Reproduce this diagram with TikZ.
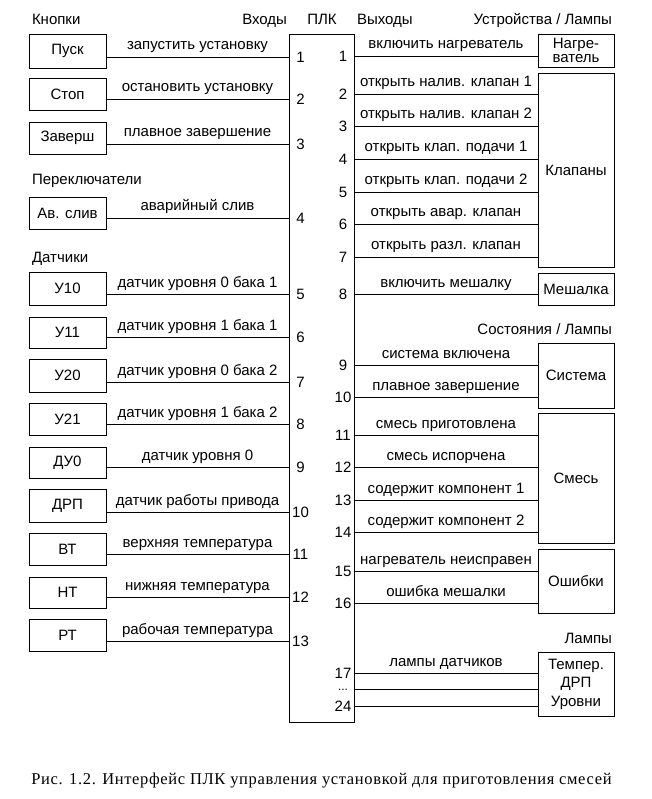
\documentclass[tikz,border=0pt]{standalone}
\usepackage{fontspec}
\setmainfont{Liberation Sans}
\newfontfamily\capfont[LetterSpace=4.0]{Liberation Serif}
\begin{document}
\begin{tikzpicture}[x=1pt,y=-1pt,
  every node/.style={inner sep=0pt, outer sep=0pt, font=\fontsize{15}{18}\selectfont},
  box/.style={draw, line width=0.8pt},
  wire/.style={line width=0.8pt},
  lbl/.style={anchor=base},
  num/.style={anchor=center},
  head/.style={}]
\useasboundingbox (0,0) rectangle (652,799);

% headers
\node[head, anchor=base west] (hk) at (32,25) {Кнопки};
\node[head, anchor=base east] (hin) at (287,25) {Входы};
\node[head, anchor=base] (hplc) at (322,25) {ПЛК};
\node[head, anchor=base west] (hout) at (357,25) {Выходы};
\node[head, anchor=base east] (hdev) at (612,25) {Устройства / Лампы};
\node[head, anchor=base west] (hsw) at (32,185) {Переключатели};
\node[head, anchor=base west] (hsens) at (32,262) {Датчики};
\node[head, anchor=base east] (hst) at (612,334) {Состояния / Лампы};
\node[head, anchor=base east] (hlamp) at (612,643) {Лампы};

% PLC
\node[box, minimum width=65pt, minimum height=688pt] (plc) at (321.5,378) {};

% left side
\foreach \n/\t/\top/\bot/\y/\lab in {
  1/Пуск/34/68/57/запустить установку,
  2/Стоп/78/110/99/остановить установку,
  3/Заверш/122/154/144/плавное завершение,
  4/Ав. слив/197/229/218/аварийный слив,
  5/У10/272/305/294/датчик уровня 0 бака 1,
  6/У11/317/348/337/датчик уровня 1 бака 1,
  7/У20/359/392/382/датчик уровня 0 бака 2,
  8/У21/403/435/424/датчик уровня 1 бака 2,
  9/ДУ0/447/478/467/датчик уровня 0,
  10/ДРП/489/522/512/датчик работы привода,
  11/ВТ/533/565/554/верхняя температура,
  12/НТ/577/608/597/нижняя температура,
  13/РТ/619/651/641/рабочая температура}{
  \pgfmathsetmacro\h{\bot-\top}
  \pgfmathsetmacro\c{(\bot+\top)/2}
  \node[box, minimum width=77pt, minimum height=\h pt] (src\n) at (67.5,\c) {\t};
  \coordinate (in\n) at (plc.west |- 0,\y);
  \draw[wire] (src\n.east |- in\n) -- (in\n);
  \node[lbl] (il\n) at (197.5,\y-7) {\lab};
  \node[num] (inum\n) at (300.5,\y) {\n};
}

% right side devices
\node[box, minimum width=76pt, minimum height=33pt, align=center, font=\fontsize{15}{14.5}\selectfont] (heat) at (576,50.5) {Нагре-\\ватель};
\node[box, minimum width=76pt, minimum height=194pt] (valves) at (576,170) {Клапаны};
\node[box, minimum width=76pt, minimum height=32pt] (mixer) at (576,289) {Мешалка};
\node[box, minimum width=76pt, minimum height=65pt] (sys) at (576,375.5) {Система};
\node[box, minimum width=76pt, minimum height=130pt] (mix) at (576,478) {Смесь};
\node[box, minimum width=76pt, minimum height=64pt] (err) at (576,581) {Ошибки};
\node[box, minimum width=76pt, minimum height=64pt, align=center, font=\fontsize{15}{18.5}\selectfont] (lamps) at (576,684) {Темпер.\\ДРП\\Уровни};

\foreach \n/\y/\dev/\lab in {
  1/56/heat/включить нагреватель,
  2/94/valves/открыть налив. клапан 1,
  3/126/valves/открыть налив. клапан 2,
  4/159/valves/открыть клап. подачи 1,
  5/192/valves/открыть клап. подачи 2,
  6/224/valves/открыть авар. клапан,
  7/257/valves/открыть разл. клапан,
  8/294/mixer/включить мешалку,
  9/365/sys/система включена,
  10/397/sys/плавное завершение,
  11/435/mix/смесь приготовлена,
  12/467/mix/смесь испорчена,
  13/500/mix/содержит компонент 1,
  14/532/mix/содержит компонент 2,
  15/571/err/нагреватель неисправен,
  16/603/err/ошибка мешалки,
  17/673/lamps/лампы датчиков}{
  \coordinate (out\n) at (plc.east |- 0,\y);
  \draw[wire] (out\n) -- (\dev.west |- out\n);
  \node[lbl] (ol\n) at (446,\y-7) {\lab};
  \node[num] (onum\n) at (343,\y) {\n};
}
\coordinate (outd) at (plc.east |- 0,689.5);
\coordinate (out24) at (plc.east |- 0,706);
\draw[wire] (outd) -- (lamps.west |- outd);
\draw[wire] (out24) -- (lamps.west |- out24);
\node[anchor=base, text height=2pt, text depth=0pt, font=\fontsize{12}{12}\selectfont] (onumd) at (343,690) {...};
\node[num] (onum24) at (343,706) {24};

% caption
\node[anchor=base, font=\capfont\fontsize{16.5}{20}\selectfont] (cap) at (321.5,784) {Рис. 1.2. Интерфейс ПЛК управления установкой для приготовления смесей};
\end{tikzpicture}
\end{document}
